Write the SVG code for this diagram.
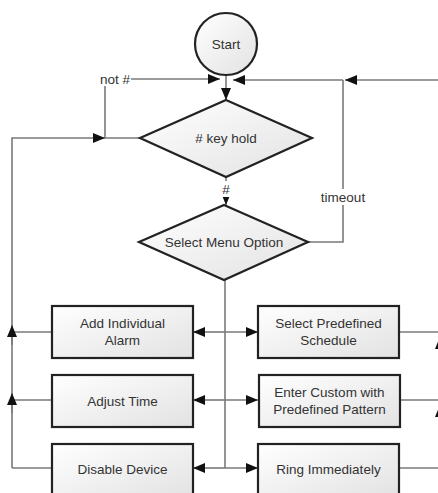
<svg xmlns="http://www.w3.org/2000/svg" width="438" height="493" viewBox="0 0 438 493">
<defs>
<linearGradient id="g" x1="0" y1="0" x2="1" y2="1">
<stop offset="0" stop-color="#ffffff"/>
<stop offset="1" stop-color="#e2e2e2"/>
</linearGradient>
<marker id="ah" viewBox="0 0 12 10" refX="12" refY="5" markerWidth="12" markerHeight="10" markerUnits="userSpaceOnUse" orient="auto">
<path d="M0,0 L12,5 L0,10 Z" fill="#111"/>
</marker>
</defs>
<style>
.c{fill:none;stroke:#7a7a7a;stroke-width:1.6}
.n{fill:url(#g);stroke:#222;stroke-width:2.2}
.t{font-family:"Liberation Sans",Arial,sans-serif;font-size:13.5px;fill:#333;text-anchor:middle;dominant-baseline:central}
.lb{fill:#fff}
</style>
<g id="connectors">
<line class="c" x1="226" y1="75" x2="226" y2="100" marker-end="url(#ah)"/>
<line class="c" x1="131" y1="79" x2="220" y2="79" marker-end="url(#ah)"/>
<line class="c" x1="343" y1="80" x2="233" y2="80" marker-end="url(#ah)"/>
<line class="c" x1="440" y1="80" x2="345" y2="80" marker-end="url(#ah)"/>
<polyline class="c" points="140,138 105,138 105,86"/>
<polyline class="c" points="12,468 12,138 105,138" marker-end="url(#ah)"/>
<line class="c" x1="226" y1="177" x2="226" y2="205" marker-end="url(#ah)"/>
<polyline class="c" points="308,242 343,242 343,80"/>
<line class="c" x1="225" y1="280" x2="225" y2="468"/>
<line class="c" x1="225" y1="332" x2="193" y2="332" marker-end="url(#ah)"/>
<line class="c" x1="225" y1="332" x2="258" y2="332" marker-end="url(#ah)"/>
<line class="c" x1="225" y1="400" x2="193" y2="400" marker-end="url(#ah)"/>
<line class="c" x1="225" y1="400" x2="258" y2="400" marker-end="url(#ah)"/>
<line class="c" x1="225" y1="468" x2="193" y2="468" marker-end="url(#ah)"/>
<line class="c" x1="225" y1="468" x2="258" y2="468" marker-end="url(#ah)"/>
<line class="c" x1="52" y1="332" x2="12" y2="332"/>
<line class="c" x1="52" y1="400" x2="12" y2="400"/>
<line class="c" x1="52" y1="468" x2="12" y2="468"/>
<line class="c" x1="12" y1="345" x2="12" y2="325" marker-end="url(#ah)"/>
<line class="c" x1="12" y1="413" x2="12" y2="393" marker-end="url(#ah)"/>
<line class="c" x1="399" y1="332" x2="440" y2="332"/>
<line class="c" x1="399" y1="400" x2="440" y2="400"/>
<line class="c" x1="399" y1="468" x2="440" y2="468"/>
<line class="c" x1="440" y1="468" x2="440" y2="80"/>
<line class="c" x1="440" y1="355" x2="440" y2="337" marker-end="url(#ah)"/>
<line class="c" x1="440" y1="423" x2="440" y2="405" marker-end="url(#ah)"/>
<rect class="lb" x="218" y="181" width="16" height="16"/>
<text class="t" x="226" y="189">#</text>
<rect class="lb" x="318" y="189" width="50" height="16"/>
<text class="t" x="343" y="197">timeout</text>
<text class="t" x="115" y="79">not #</text>
</g>
<g id="start"><circle class="n" cx="226" cy="44" r="31"/><text class="t" x="226" y="44">Start</text></g>
<g id="keyhold"><polygon class="n" points="226,100 312,138 226,177 140,138"/><text class="t" x="226" y="138"># key hold</text></g>
<g id="menu"><polygon class="n" points="224,205 308,242 224,280 139,242"/><text class="t" x="224" y="242">Select Menu Option</text></g>
<g id="addalarm"><rect class="n" x="52" y="306" width="141" height="52"/><text class="t" x="122.5" y="323">Add Individual</text><text class="t" x="122.5" y="340">Alarm</text></g>
<g id="adjusttime"><rect class="n" x="52" y="375" width="141" height="52"/><text class="t" x="122.5" y="401">Adjust Time</text></g>
<g id="disable"><rect class="n" x="52" y="444" width="141" height="54"/><text class="t" x="122.5" y="469">Disable Device</text></g>
<g id="schedule"><rect class="n" x="258" y="306" width="141" height="52"/><text class="t" x="328.5" y="323">Select Predefined</text><text class="t" x="328.5" y="340">Schedule</text></g>
<g id="custom"><rect class="n" x="259" y="375" width="141" height="52"/><text class="t" x="329.5" y="392">Enter Custom with</text><text class="t" x="329.5" y="409">Predefined Pattern</text></g>
<g id="ring"><rect class="n" x="258" y="444" width="141" height="54"/><text class="t" x="328.5" y="469">Ring Immediately</text></g>
</svg>
